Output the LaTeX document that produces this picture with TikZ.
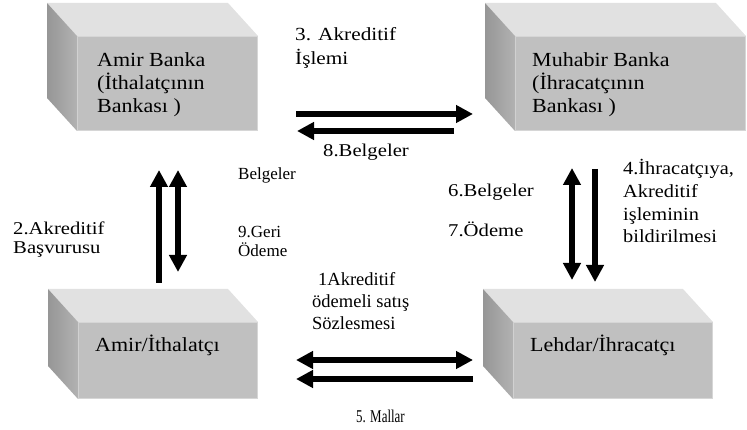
\documentclass[tikz,border=0pt]{standalone}
\usepackage{fontspec}
\setmainfont{Liberation Serif}
\newfontfamily\boxserif[FakeStretch=1.1]{Liberation Serif}
\newfontfamily\wideserif[FakeStretch=1.15]{Liberation Serif}
\newfontfamily\narrowserif[FakeStretch=0.72]{Liberation Serif}
\usetikzlibrary{positioning,calc,arrows.meta}

\definecolor{boxtop}{HTML}{E1E1E1}
\definecolor{boxfront}{HTML}{C0C0C0}
\definecolor{boxedge}{HTML}{D6D6D6}
\definecolor{sidedark}{HTML}{969696}
\definecolor{sidelight}{HTML}{B2B2B2}

\tikzset{
  front/.style={fill=boxfront, draw=boxedge, line width=1pt, anchor=north west, inner sep=0pt},
  boxtext/.style={anchor=base west, align=left, inner sep=0pt, font=\boxserif\fontsize{20}{23}\selectfont},
  lbl/.style={anchor=base west, align=left, inner sep=0pt, font=\wideserif\fontsize{18}{23}\selectfont},
  smalllbl/.style={anchor=base west, align=left, inner sep=0pt, font=\fontsize{17}{19}\selectfont},
  fwd/.style={line width=6pt, -{Triangle[length=17pt,width=17pt]}},
  bothways/.style={line width=6pt, {Triangle[length=17pt,width=17pt]}-{Triangle[length=17pt,width=17pt]}},
}

% top and side faces behind a front face
\newcommand{\boxfaces}[1]{%
  \fill[boxtop] (#1.north west) -- ++(-30,-33) -- ($(#1.north east)+(-30,-33)$) -- (#1.north east) -- cycle;
  \shade[left color=sidedark, right color=sidelight] (#1.north west) -- ++(-30,-33)
    -- ($(#1.south west)+(-30,-33)$) -- (#1.south west) -- cycle;
}

\begin{document}
\begin{tikzpicture}[x=1pt,y=-1pt]
\useasboundingbox (0,0) rectangle (747,430);

% boxes
\node[front, minimum width=180pt, minimum height=94pt] (amirbanka) at (77,36) {};
\node[front, minimum width=230pt, minimum height=94pt] (muhabir) at (515,36) {};
\node[front, minimum width=179pt, minimum height=76pt] (amirith) at (78,322) {};
\node[front, minimum width=199pt, minimum height=76pt] (lehdar) at (513,322) {};
\boxfaces{amirbanka}
\boxfaces{muhabir}
\boxfaces{amirith}
\boxfaces{lehdar}

% multi-line nodes sit on the baseline of their last line
\node[boxtext] (amirbankatxt) at ($(amirbanka.north west)+(20,77)$) {Amir Banka\\(İthalatçının\\Bankası )};
\node[boxtext] (muhabirtxt) at ($(muhabir.north west)+(17,77)$) {Muhabir Banka\\(İhracatçının\\Bankası )};
\node[boxtext] (amirithtxt) at ($(amirith.north west)+(17,30)$) {Amir/İthalatçı};
\node[boxtext] (lehdartxt) at ($(lehdar.north west)+(17,30)$) {Lehdar/İhracatçı};

% arrow ends
\coordinate (t1) at (296,114);  \coordinate (t2) at (473,114);
\coordinate (t3) at (454,131);  \coordinate (t4) at (297,131);
\coordinate (l1) at (159,283);  \coordinate (l2) at (159,170);
\coordinate (l3) at (178,170);  \coordinate (l4) at (178,272);
\coordinate (r1) at (572,168);  \coordinate (r2) at (572,280);
\coordinate (r3) at (595,169);  \coordinate (r4) at (595,282);
\coordinate (b1) at (296,360);  \coordinate (b2) at (473,360);
\coordinate (b3) at (473,379);  \coordinate (b4) at (296,379);

\draw[fwd] (t1) -- (t2);
\draw[fwd] (t3) -- (t4);
\draw[fwd] (l1) -- (l2);
\draw[bothways] (l3) -- (l4);
\draw[bothways] (r1) -- (r2);
\draw[fwd] (r3) -- (r4);
\draw[bothways] (b1) -- (b2);
\draw[fwd] (b3) -- (b4);

% labels
\node[lbl, font=\wideserif\fontsize{18.5}{24}\selectfont] (islem) at (295,65) {3. Akreditif\\İşlemi};
\node[lbl] (belge8) at (323,157) {8.Belgeler};
\node[smalllbl] (belgesol) at (238,180) {Belgeler};
\node[smalllbl] (geri) at (238,257) {9.Geri\\Ödeme};
\node[lbl, font=\wideserif\fontsize{18}{18.5}\selectfont] (basvuru) at (13,253.5) {2.Akreditif\\Başvurusu};
\node[lbl] (belge6) at (448,197) {6.Belgeler};
\node[lbl] (odeme) at (448,237) {7.Ödeme};
\node[lbl, font=\boxserif\fontsize{18.5}{22.7}\selectfont] (bildirim) at (623,243) {4.İhracatçıya,\\Akreditif\\işleminin\\bildirilmesi};
\node[lbl, font=\fontsize{18.5}{22}\selectfont] (sozlesme) at (312,330) {\hspace{6pt}1Akreditif\\ödemeli satış\\Sözlesmesi};
\node[lbl, font=\narrowserif\fontsize{18}{20}\selectfont] (mallar) at (356,422) {5. Mallar};
\end{tikzpicture}
\end{document}
